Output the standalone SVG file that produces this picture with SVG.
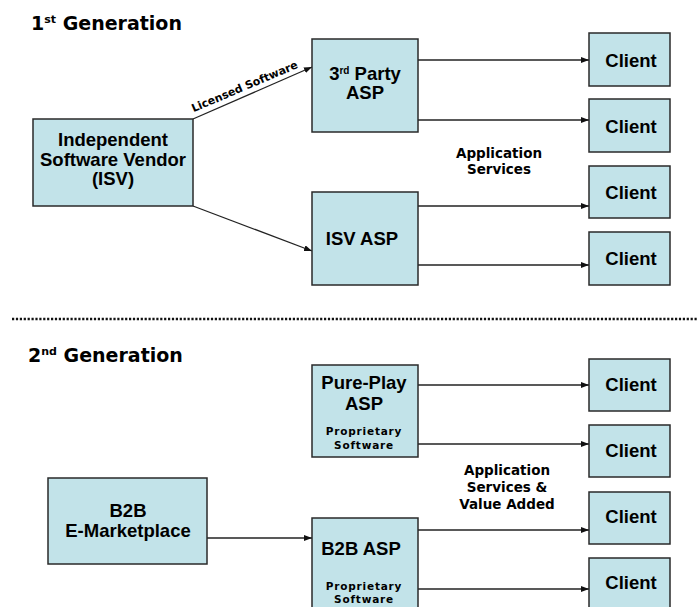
<svg xmlns="http://www.w3.org/2000/svg" width="697" height="607" viewBox="0 0 697 607">
<defs>
<marker id="arr" markerUnits="userSpaceOnUse" markerWidth="8" markerHeight="6" refX="8" refY="3" orient="auto">
<path d="M0,0 L8,3 L0,6 z" fill="#111"/>
</marker>
<style>
.box{fill:#C2E3E9;stroke:#2a2a2a;stroke-width:1.5}
.bt{font-family:"Liberation Sans",Arial,sans-serif;font-weight:bold;font-size:18.5px;fill:#000;text-anchor:middle}
.title{font-family:"DejaVu Sans",sans-serif;font-weight:bold;font-size:19px;fill:#000}
.lbl{font-family:"DejaVu Sans",sans-serif;font-weight:bold;font-size:13.5px;fill:#000;text-anchor:middle}
.sm{font-family:"DejaVu Sans",sans-serif;font-weight:bold;font-size:10.5px;fill:#000;text-anchor:middle;letter-spacing:0.8px}
.ln{stroke:#222;stroke-width:1.3;fill:none;marker-end:url(#arr)}
</style>
</defs>
<rect width="697" height="607" fill="#fff"/>

<text class="title" x="31" y="30">1<tspan font-size="11" dy="-7">st</tspan><tspan dy="7"> Generation</tspan></text>
<text class="title" x="28" y="362">2<tspan font-size="11" dy="-7">nd</tspan><tspan dy="7"> Generation</tspan></text>

<line x1="12" y1="319" x2="697" y2="319" stroke="#111" stroke-width="2.6" stroke-dasharray="2.2 1.7"/>

<g id="connectors">
<line class="ln" x1="193" y1="119" x2="312" y2="67"/>
<line class="ln" x1="193" y1="206" x2="312" y2="251"/>
<line class="ln" x1="418" y1="60" x2="589" y2="60"/>
<line class="ln" x1="418" y1="120" x2="589" y2="120"/>
<line class="ln" x1="418" y1="206" x2="589" y2="206"/>
<line class="ln" x1="418" y1="265" x2="589" y2="265"/>
<line class="ln" x1="207" y1="538" x2="312" y2="538"/>
<line class="ln" x1="418" y1="385" x2="589" y2="385"/>
<line class="ln" x1="418" y1="444" x2="589" y2="444"/>
<line class="ln" x1="418" y1="530" x2="589" y2="530"/>
<line class="ln" x1="418" y1="589" x2="589" y2="589"/>
<text font-family="DejaVu Sans, sans-serif" font-weight="bold" font-size="11" text-anchor="middle" transform="translate(246,90) rotate(-23)">Licensed Software</text>
<text class="lbl" x="499" y="158">Application</text>
<text class="lbl" x="499" y="174">Services</text>
<text class="lbl" x="507" y="475">Application</text>
<text class="lbl" x="507" y="492">Services &amp;</text>
<text class="lbl" x="507" y="509">Value Added</text>
</g>

<g id="isv">
<rect class="box" x="33" y="119" width="160" height="87"/>
<text class="bt" x="113" y="146">Independent</text>
<text class="bt" x="113" y="166">Software Vendor</text>
<text class="bt" x="113" y="185">(ISV)</text>
</g>

<g id="asp3">
<rect class="box" x="312" y="39" width="106" height="93"/>
<text class="bt" x="365" y="80">3<tspan font-size="10" dy="-6">rd</tspan><tspan dy="6"> Party</tspan></text>
<text class="bt" x="365" y="99">ASP</text>
</g>

<g id="isvasp">
<rect class="box" x="312" y="192" width="106" height="93"/>
<text class="bt" x="362" y="245">ISV ASP</text>
</g>

<g id="c1"><rect class="box" x="589" y="33" width="81" height="53"/><text class="bt" x="631" y="67">Client</text></g>
<g id="c2"><rect class="box" x="589" y="99" width="81" height="53"/><text class="bt" x="631" y="133">Client</text></g>
<g id="c3"><rect class="box" x="589" y="166" width="81" height="52"/><text class="bt" x="631" y="199">Client</text></g>
<g id="c4"><rect class="box" x="589" y="232" width="81" height="53"/><text class="bt" x="631" y="265">Client</text></g>

<g id="b2bmkt">
<rect class="box" x="48" y="478" width="159" height="86"/>
<text class="bt" x="128" y="517">B2B</text>
<text class="bt" x="128" y="537">E-Marketplace</text>
</g>

<g id="pureplay">
<rect class="box" x="312" y="365" width="106" height="92"/>
<text class="bt" x="364" y="389">Pure-Play</text>
<text class="bt" x="364" y="410">ASP</text>
<text class="sm" x="364" y="435">Proprietary</text>
<text class="sm" x="364" y="449">Software</text>
</g>

<g id="b2basp">
<rect class="box" x="312" y="518" width="106" height="95"/>
<text class="bt" x="361" y="555">B2B ASP</text>
<text class="sm" x="364" y="590">Proprietary</text>
<text class="sm" x="364" y="603">Software</text>
</g>

<g id="c5"><rect class="box" x="589" y="359" width="81" height="52"/><text class="bt" x="631" y="391">Client</text></g>
<g id="c6"><rect class="box" x="589" y="425" width="81" height="52"/><text class="bt" x="631" y="457">Client</text></g>
<g id="c7"><rect class="box" x="589" y="492" width="81" height="52"/><text class="bt" x="631" y="523">Client</text></g>
<g id="c8"><rect class="box" x="589" y="558" width="81" height="55"/><text class="bt" x="631" y="589">Client</text></g>
</svg>
